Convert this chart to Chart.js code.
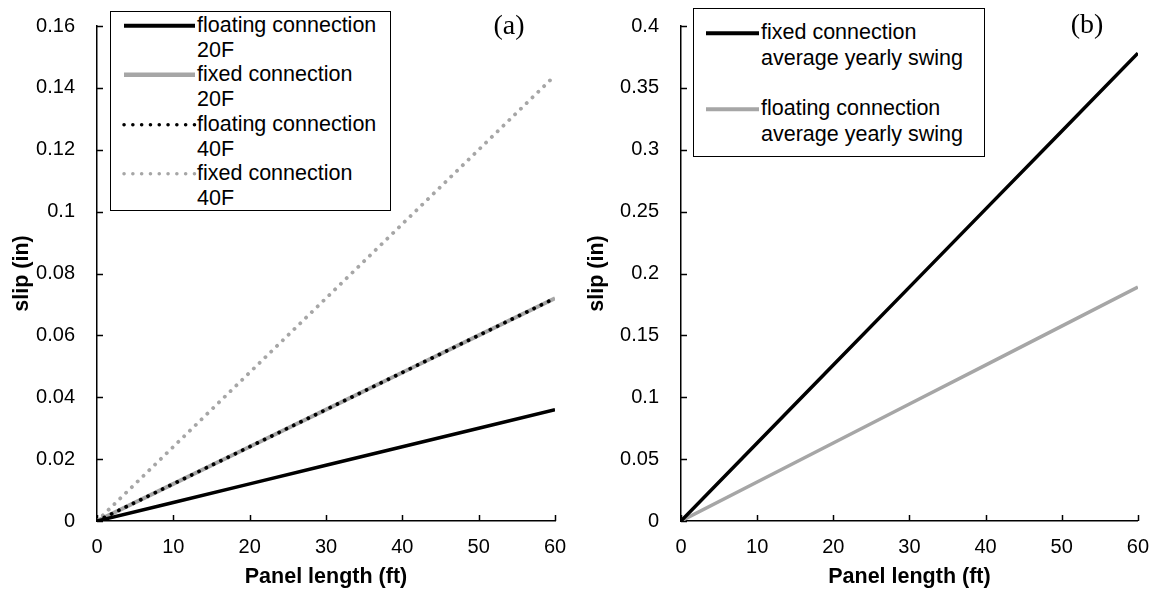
<!DOCTYPE html>
<html>
<head>
<meta charset="utf-8">
<script src="https://cdn.jsdelivr.net/npm/chart.js@4.4.1/dist/chart.umd.min.js"></script>
<style>
  html, body { margin: 0; padding: 0; background: #fff; }
  #wrap { position: relative; width: 1151px; height: 594px; overflow: hidden; font-family: "Liberation Sans", Arial, sans-serif; }
  .panel { position: absolute; top: 0; height: 594px; }
  .legend { position: absolute; background: #fff; border: 1.5px solid #000; box-sizing: border-box; font-size: 21.5px; color: #000; }
  .item { position: relative; line-height: 24.7px; }
  .item svg { position: absolute; top: 0; }
  .tag { position: absolute; font-family: "Liberation Serif", "Times New Roman", serif; font-size: 28px; color: #000; transform: translate(-50%, -50%); }
</style>
</head>
<body>
<div id="wrap">
  <div class="panel" style="left:0;width:575px"><canvas id="chartA" width="575" height="594"></canvas></div>
  <div class="panel" style="left:575px;width:576px"><canvas id="chartB" width="576" height="594"></canvas></div>
  <div class="legend" id="legendA" style="left:110px;top:11px;width:281px;height:200px;padding-top:1px"></div>
  <div class="legend" id="legendB" style="left:693px;top:8px;width:292px;height:149px;padding-top:11px"></div>
  <div class="tag" style="left:509px;top:25px">(a)</div>
  <div class="tag" style="left:1087px;top:24px">(b)</div>
</div>
<script>
(function(){
    "use strict";

    // panel length (ft)
    const panelLength = [0, 10, 20, 30, 40, 50, 60];

    // (a) slip (in)
    const floating20F = [0, 0.006, 0.012, 0.018, 0.024, 0.030, 0.036];
    const fixed20F    = [0, 0.012, 0.024, 0.036, 0.048, 0.060, 0.072];
    const floating40F = [0, 0.012, 0.024, 0.036, 0.048, 0.060, 0.072];
    const fixed40F    = [0, 0.024, 0.048, 0.072, 0.096, 0.120, 0.144];

    // (b) slip (in)
    const fixedYearly    = [0, 0.063, 0.126, 0.189, 0.252, 0.315, 0.378];
    const floatingYearly = [0, 0.0315, 0.063, 0.0945, 0.126, 0.1575, 0.189];

    // tick labels
    const xTicks  = [0, 10, 20, 30, 40, 50, 60];
    const yTicksA = [0, 0.02, 0.04, 0.06, 0.08, 0.1, 0.12, 0.14, 0.16];
    const yTicksB = [0, 0.05, 0.1, 0.15, 0.2, 0.25, 0.3, 0.35, 0.4];

    const BLACK = '#000000';
    const GREY = '#a6a6a6';
    const FONT = '"Liberation Sans", Arial, sans-serif';

    function points(ys) {
        return panelLength.map((x, i) => ({x: x, y: ys[i]}));
    }

    function fmt(v) {
        return String(Number(v.toFixed(4)));
    }

    // tick marks pointing into the plot area
    const innerTicks = {
        id: 'innerTicks',
        beforeDatasetsDraw(chart) {
            const {ctx, chartArea, scales} = chart;
            ctx.save();
            ctx.strokeStyle = BLACK;
            ctx.lineWidth = 1.5;
            scales.x.ticks.forEach(t => {
                const px = Math.round(scales.x.getPixelForValue(t.value)) + 0.5;
                ctx.beginPath();
                ctx.moveTo(px, chartArea.bottom);
                ctx.lineTo(px, chartArea.bottom - 6);
                ctx.stroke();
            });
            scales.y.ticks.forEach(t => {
                const py = Math.round(scales.y.getPixelForValue(t.value)) + 0.5;
                ctx.beginPath();
                ctx.moveTo(chartArea.left, py);
                ctx.lineTo(chartArea.left + 6, py);
                ctx.stroke();
            });
            ctx.restore();
        }
    };

    function makeChart(id, datasets, yMax, yTicks, yWidth, rightPad) {
        const ctx = document.getElementById(id).getContext('2d');
        return new Chart(ctx, {
            type: 'line',
            data: {datasets: datasets},
            options: {
                responsive: false,
                animation: false,
                events: [],
                layout: {padding: {top: 26, right: rightPad, bottom: 0, left: 0}},
                elements: {point: {radius: 0}, line: {tension: 0}},
                plugins: {legend: {display: false}, tooltip: {enabled: false}},
                scales: {
                    x: {
                        type: 'linear',
                        min: 0,
                        max: 60,
                        afterBuildTicks: s => { s.ticks = xTicks.map(v => ({value: v})); },
                        afterFit: s => { s.height = 73; },
                        // hidden tick marks only offset the labels; the visible ones point inward
                        grid: {display: false, drawTicks: true, tickLength: 12},
                        border: {display: true, color: BLACK, width: 1.5},
                        ticks: {color: BLACK, padding: 2, maxRotation: 0, font: {family: FONT, size: 20}},
                        title: {display: true, text: 'Panel length (ft)', color: BLACK, padding: {top: 0, bottom: 4},
                                font: {family: FONT, size: 21.5, weight: 'bold'}}
                    },
                    y: {
                        min: 0,
                        max: yMax,
                        afterBuildTicks: s => { s.ticks = yTicks.map(v => ({value: v})); },
                        afterFit: s => { s.width = yWidth; },
                        grid: {display: false, drawTicks: true, tickLength: 18},
                        border: {display: true, color: BLACK, width: 1.5},
                        ticks: {color: BLACK, padding: 4, callback: v => fmt(v), font: {family: FONT, size: 20}},
                        title: {display: true, text: 'slip (in)', color: BLACK, padding: {top: 9, bottom: 0},
                                font: {family: FONT, size: 21.5, weight: 'bold'}}
                    }
                }
            },
            plugins: [innerTicks]
        });
    }

    const dotted = {borderDash: [0.1, 8], borderCapStyle: 'round'};

    const setA = [
        Object.assign({label: 'floating connection\n40F', data: points(floating40F), borderColor: BLACK, borderWidth: 3.8, order: 0}, dotted),
        {label: 'floating connection\n20F', data: points(floating20F), borderColor: BLACK, borderWidth: 3.5, order: 1},
        Object.assign({label: 'fixed connection\n40F', data: points(fixed40F), borderColor: GREY, borderWidth: 3.8, order: 2}, dotted),
        {label: 'fixed connection\n20F', data: points(fixed20F), borderColor: GREY, borderWidth: 4, order: 3}
    ];

    const setB = [
        {label: 'fixed connection\naverage yearly swing', data: points(fixedYearly), borderColor: BLACK, borderWidth: 3.5, order: 0},
        {label: 'floating connection\naverage yearly swing', data: points(floatingYearly), borderColor: GREY, borderWidth: 3.5, order: 1}
    ];

    makeChart('chartA', setA, 0.16, yTicksA, 97, 20);
    makeChart('chartB', setB, 0.4, yTicksB, 106, 11);

    // legends in the original entry order
    function legendRow(label, color, dash, width, sampleLeft, sampleWidth, textLeft, gap, lh) {
        const lines = label.split('\n');
        const dashAttr = dash ? ' stroke-dasharray="0.1 8.7" stroke-linecap="round"' : '';
        const mid = lh / 2 + 0.5;
        return `<div class="item" style="padding-left:${textLeft}px;margin-bottom:${gap}px;line-height:${lh}px">
            <svg width="${sampleWidth + 4}" height="${lh}" style="left:${sampleLeft - 2}px">
                <line x1="2" y1="${mid}" x2="${sampleWidth + 2}" y2="${mid}" stroke="${color}" stroke-width="${width}"${dashAttr}/>
            </svg>${lines.join('<br>')}</div>`;
    }

    document.getElementById('legendA').innerHTML = [
        legendRow('floating connection\n20F', BLACK, false, 4, 13, 71, 86, 0, 24.7),
        legendRow('fixed connection\n20F', GREY, false, 4.5, 13, 71, 86, 0, 24.7),
        legendRow('floating connection\n40F', BLACK, true, 3.5, 13, 71, 86, 0, 24.7),
        legendRow('fixed connection\n40F', GREY, true, 3.5, 13, 71, 86, 0, 24.7)
    ].join('');

    document.getElementById('legendB').innerHTML = [
        legendRow('fixed connection\naverage yearly swing', BLACK, false, 4, 12, 53, 67, 25, 25.5),
        legendRow('floating connection\naverage yearly swing', GREY, false, 4, 12, 53, 67, 0, 25.5)
    ].join('');
})();
</script>
</body>
</html>
